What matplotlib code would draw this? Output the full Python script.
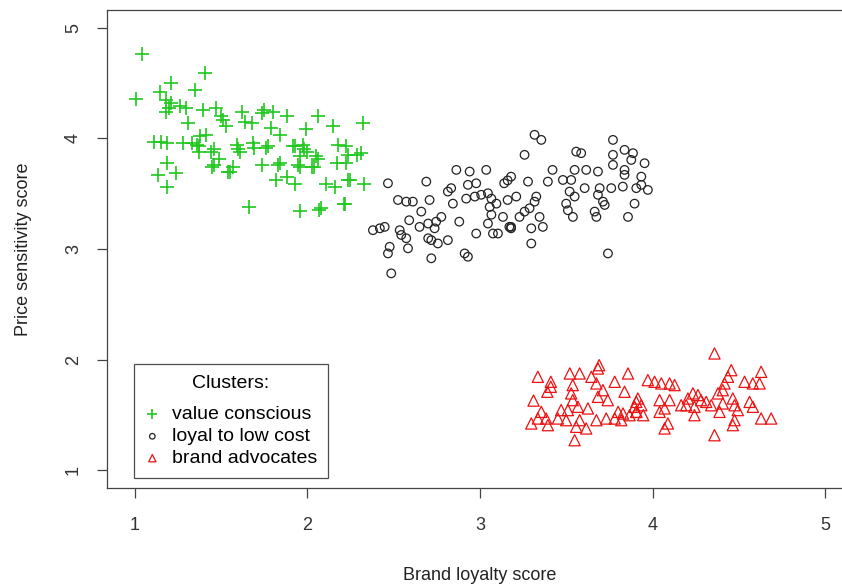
import matplotlib
matplotlib.use("Agg")
import matplotlib.pyplot as plt

# ---- data ----
value_x = [1.045, 1.405, 1.01, 1.21, 1.35, 1.145, 1.18, 1.20, 1.26, 1.30, 1.18, 1.395, 1.47, 1.50,
           1.51, 1.53, 1.31, 1.62, 1.64, 1.68, 1.74, 1.75, 1.80, 1.88, 1.79, 1.84, 1.99, 2.06, 2.15,
           2.32, 1.115, 1.155, 1.19, 1.28, 1.36, 1.415, 1.375, 1.46, 1.49, 1.46, 1.54, 1.57, 1.59,
           1.61, 1.685, 1.69, 1.76, 1.74, 1.84, 1.82, 1.92, 1.955, 1.975, 2.00, 1.955, 2.05, 2.06,
           2.03, 1.93, 1.88, 2.18, 2.225, 2.235, 2.225, 2.17, 2.31, 2.11, 2.16, 2.235, 2.33, 2.22,
           1.955, 2.07, 1.665, 1.19, 1.135, 1.24, 1.19, 1.33, 1.37, 1.376, 1.44, 1.45, 1.55, 1.60,
           1.21, 1.77, 1.93, 1.98, 2.04, 2.29, 1.83, 1.945, 2.245, 2.21, 2.08]
value_y = [4.76, 4.59, 4.36, 4.50, 4.44, 4.42, 4.35, 4.27, 4.29, 4.27, 4.24, 4.26, 4.27, 4.20,
           4.17, 4.11, 4.14, 4.24, 4.15, 4.14, 4.23, 4.26, 4.24, 4.20, 4.09, 4.03, 4.08, 4.20, 4.11,
           4.14, 3.97, 3.97, 3.96, 3.96, 3.94, 4.03, 3.88, 3.90, 3.81, 3.76, 3.70, 3.745, 3.94,
           3.88, 3.96, 3.91, 3.91, 3.76, 3.78, 3.62, 3.93, 3.84, 3.94, 3.88, 3.745, 3.84, 3.81,
           3.745, 3.59, 3.65, 3.94, 3.93, 3.85, 3.78, 3.78, 3.87, 3.59, 3.56, 3.62, 3.59, 3.41,
           3.34, 3.35, 3.38, 3.56, 3.67, 3.69, 3.78, 3.96, 3.93, 4.02, 3.88, 3.745, 3.70, 3.90,
           4.32, 3.93, 3.93, 3.90, 3.745, 3.85, 3.76, 3.76, 3.62, 3.41, 3.37]

loyal_x = [2.467, 2.689, 2.863, 2.94, 3.036, 2.525, 2.573, 2.611, 2.708, 2.814, 2.833, 2.843, 2.92,
           2.93, 2.978, 2.97, 3.007, 3.046, 3.066, 3.095, 3.056, 3.066, 3.14, 3.16, 3.16, 2.66,
           2.59, 2.65, 2.70, 2.746, 2.776, 2.737, 2.70, 2.718, 2.756, 2.814, 2.535, 2.544, 2.573,
           2.583, 2.38, 2.42, 2.448, 2.477, 2.467, 2.486, 2.718, 2.911, 2.93, 2.88, 2.978, 3.046,
           3.075, 3.104, 3.133, 3.17, 3.18,
           3.316, 3.355, 3.258, 3.557, 3.586, 3.77, 3.837, 3.886, 3.77, 3.876, 3.953, 3.77, 3.837,
           3.837, 3.934, 3.42, 3.548, 3.615, 3.683, 3.18, 3.278, 3.393, 3.48, 3.528, 3.21, 3.326,
           3.519, 3.548, 3.606, 3.693, 3.76, 3.827, 3.905, 3.934, 3.972, 3.683, 3.712, 3.722,
           3.316, 3.287, 3.258, 3.229, 3.499, 3.509, 3.538, 3.664, 3.674, 3.895, 3.857, 3.345,
           3.364, 3.297, 3.297, 3.18, 3.741]
loyal_y = [3.594, 3.609, 3.715, 3.70, 3.715, 3.443, 3.428, 3.428, 3.443, 3.519, 3.55, 3.41, 3.455,
           3.58, 3.594, 3.474, 3.49, 3.504, 3.455, 3.41, 3.38, 3.31, 3.594, 3.62, 3.443, 3.338,
           3.26, 3.20, 3.23, 3.247, 3.29, 3.187, 3.097, 3.08, 3.05, 3.08, 3.17, 3.127, 3.097,
           3.006, 3.17, 3.187, 3.20, 3.02, 2.96, 2.78, 2.916, 2.96, 2.93, 3.247, 3.14, 3.23,
           3.14, 3.14, 3.29, 3.20, 3.187,
           4.032, 3.986, 3.851, 3.88, 3.866, 3.986, 3.896, 3.866, 3.851, 3.805, 3.775, 3.76, 3.715,
           3.67, 3.654, 3.715, 3.715, 3.715, 3.70, 3.654, 3.609, 3.609, 3.624, 3.624, 3.474, 3.474,
           3.519, 3.474, 3.55, 3.55, 3.55, 3.564, 3.55, 3.58, 3.534, 3.49, 3.428, 3.398,
           3.428, 3.368, 3.338, 3.29, 3.41, 3.35, 3.29, 3.338, 3.29, 3.41, 3.29, 3.29,
           3.20, 3.187, 3.05, 3.20, 2.96]

brand_x = [3.335, 3.41, 3.41, 3.39, 3.31, 3.52, 3.577, 3.645, 3.683, 3.69, 3.537, 3.528, 3.674,
           3.712, 3.78, 3.857, 3.837, 3.683, 3.74, 3.537, 3.567, 3.625, 3.509, 3.47, 3.355, 3.335,
           3.383, 3.297, 3.393, 3.451, 3.499, 3.577, 3.557, 3.615, 3.548, 3.674, 3.731, 3.78,
           3.818, 3.828, 3.866, 3.895, 3.905, 3.905, 3.80,
           4.358, 4.455, 4.628, 4.532, 4.58, 4.619, 3.972, 4.011, 4.05, 4.098, 4.127, 4.436, 4.416,
           4.406, 4.378, 4.233, 4.262, 4.204, 4.28, 4.31, 3.914, 3.934, 3.905, 3.945, 4.04, 4.098,
           4.069, 4.04, 4.165, 4.194, 4.242, 4.339, 4.406, 4.464, 4.474, 4.561, 4.58, 4.242, 4.387,
           4.493, 4.474, 4.628, 4.686, 4.088, 4.069, 4.358, 4.464]
brand_y = [1.845, 1.80, 1.755, 1.71, 1.63, 1.875, 1.875, 1.845, 1.92, 1.95, 1.77, 1.695, 1.785,
           1.724, 1.80, 1.875, 1.71, 1.664, 1.634, 1.634, 1.574, 1.559, 1.544, 1.544, 1.528, 1.468,
           1.468, 1.423, 1.408, 1.468, 1.453, 1.453, 1.393, 1.378, 1.272, 1.453, 1.468, 1.468,
           1.453, 1.513, 1.498, 1.574, 1.528, 1.618, 1.528,
           2.056, 1.905, 1.89, 1.80, 1.785, 1.785, 1.815, 1.80, 1.785, 1.785, 1.77, 1.845, 1.785,
           1.724, 1.695, 1.695, 1.68, 1.649, 1.634, 1.618, 1.649, 1.588, 1.528, 1.498, 1.634, 1.634,
           1.559, 1.528, 1.588, 1.588, 1.574, 1.588, 1.604, 1.649, 1.588, 1.618, 1.574, 1.498, 1.528,
           1.544, 1.453, 1.468, 1.468, 1.423, 1.378, 1.317, 1.408]

labels = ["value conscious", "loyal to low cost", "brand advocates"]
ticks = [1, 2, 3, 4, 5]

plt.rcParams['font.family'] = ['Liberation Sans', 'DejaVu Sans']

fig = plt.figure(figsize=(8.42, 5.86), dpi=100)
W, H = 842, 586
L, R, T, B = 107, 853, 10, 488
ax = fig.add_axes([L / W, 1 - B / H, (R - L) / W, (B - T) / H])

ax.scatter(value_x, value_y, marker='+', s=100, linewidths=1.2, color='#1ec81e', label=labels[0])
ax.scatter(loyal_x, loyal_y, marker='o', s=38, facecolors='none', edgecolors='#222222',
           linewidths=0.9, label=labels[1])
ax.scatter(brand_x, brand_y, marker='^', s=65, facecolors='none', edgecolors='#ee1111',
           linewidths=0.9, label=labels[2])

ax.set_xlim(0.84, 5.16)
ax.set_ylim(0.84, 5.16)
ax.set_xticks(ticks)
ax.set_yticks(ticks)
ax.set_xticklabels([str(t) for t in ticks], fontsize=13, color='#333333')
ax.set_yticklabels([str(t) for t in ticks], fontsize=13, color='#333333', rotation=90, va='center')
ax.tick_params(axis='both', direction='out', length=7, width=0.9, color='#444444')
ax.tick_params(axis='x', pad=14)
ax.tick_params(axis='y', pad=11)
for s in ax.spines.values():
    s.set_color('#444444')
    s.set_linewidth(0.9)

ax.set_xlabel("Brand loyalty score", fontsize=13, color='#222222', labelpad=24)
ax.set_ylabel("Price sensitivity score", fontsize=13, color='#222222', labelpad=24)

leg = ax.legend(title="Clusters:", loc='lower left', bbox_to_anchor=(0.036, 0.021),
                borderaxespad=0, frameon=True, fancybox=False, edgecolor='#222222',
                fontsize=14, title_fontsize=14, handletextpad=0.6, handlelength=0.8,
                borderpad=0.55, labelspacing=0.22, markerscale=0.65)
leg.get_frame().set_linewidth(0.9)
leg._legend_box.sep = 10

fig.savefig("out.png", dpi=100)
